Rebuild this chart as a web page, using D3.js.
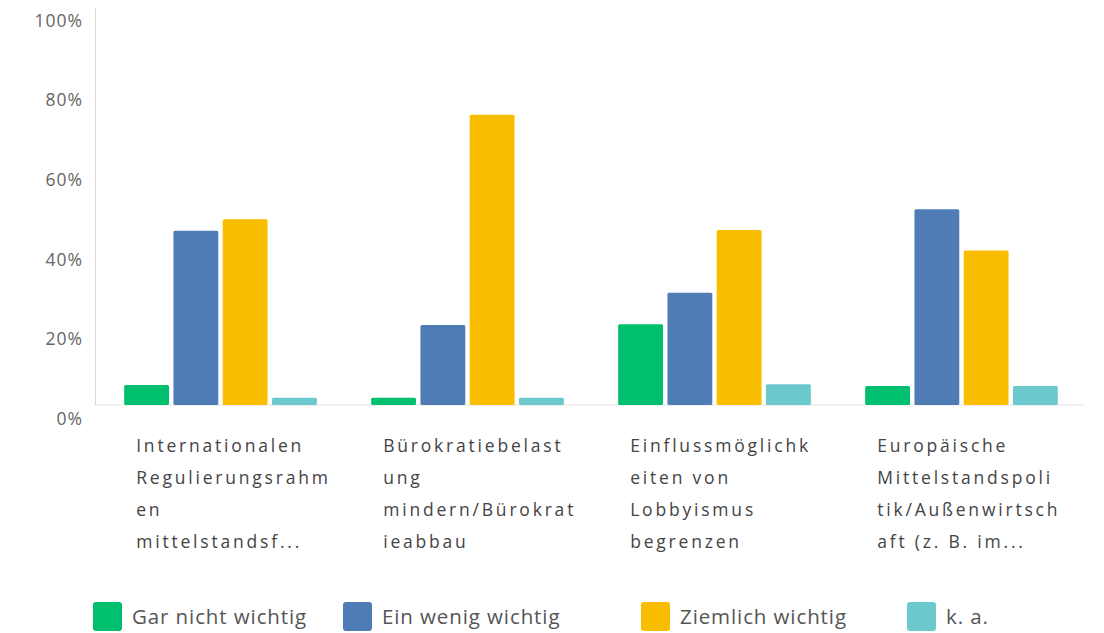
<!DOCTYPE html>
<html>
<head>
<meta charset="utf-8">
<script src="https://cdn.jsdelivr.net/npm/d3@7/dist/d3.min.js"></script>
<style>
  body{margin:0;background:#fff;}
  svg{display:block;font-family:"Open Sans",sans-serif;}
</style>
</head>
<body>
<div id="chart"></div>
<script>
// categories (already broken into lines as in the original export)
var categories=['Internationalen','Bürokratiebelast','Einflussmöglichk','Europäische'];
var categoryLines=[
    ['Internationalen','Regulierungsrahm','en','mittelstandsf...'],
    ['Bürokratiebelast','ung','mindern/Bürokrat','ieabbau'],
    ['Einflussmöglichk','eiten von','Lobbyismus','begrenzen'],
    ['Europäische','Mittelstandspoli','tik/Außenwirtsch','aft (z. B. im...']
];
var seriesNames=['Gar nicht wichtig','Ein wenig wichtig','Ziemlich wichtig','k. a.'];
var garNicht=[5.0,1.8,20.3,4.8];
var einWenig=[43.8,20.1,28.2,49.2];
var ziemlich=[46.7,72.9,44.0,38.8];
var ka=[1.8,1.8,5.2,4.8];
var yTicks=[0,20,40,60,80,100];
var colors=['#00bf6f','#507cb6','#f9be00','#6bc8cd'];

//----------------------------------------------------------------
var width=1104,
    height=633,
    mLeft=95,
    mRight=1085,
    mTop=7,
    mBottom=405;

var series=[garNicht,einWenig,ziemlich,ka];
var data=categories.map(function(c,i){
    return {cat:c,lines:categoryLines[i],values:series.map(function(s,j){
        return {name:seriesNames[j],value:s[i],idx:j};
    })};
});

var svg=d3.select('#chart').append('svg')
    .attr('width',width)
    .attr('height',height);

var yScale=d3.scaleLinear()
    .domain([0,100])
    .range([mBottom,mTop]);

var x0=d3.scaleBand()
    .domain(categories)
    .range([mLeft+2,mRight])
    .paddingInner(0.22)
    .paddingOuter(0.11);

var x1=d3.scaleBand()
    .domain(d3.range(seriesNames.length))
    .range([0,x0.bandwidth()])
    .paddingInner(0.09);

// y axis
var yAxis=svg.append('g')
    .attr('transform','translate('+mLeft+',0)')
    .call(d3.axisLeft(yScale)
        .tickValues(yTicks)
        .tickFormat(function(d){return d+'%';})
        .tickSize(0)
        .tickPadding(12));
yAxis.select('.domain').attr('stroke','#d9d9d9');
yAxis.selectAll('text')
    .attr('dy','1.1em')
    .style('font-family','"Open Sans",sans-serif')
    .style('font-size','17.5px')
    .style('letter-spacing','1px')
    .style('fill','#666');

// baseline
svg.append('line')
    .attr('x1',mLeft+2)
    .attr('x2',mRight)
    .attr('y1',yScale(0))
    .attr('y2',yScale(0))
    .attr('stroke','#e3e3e3');

// bars
var groups=svg.selectAll('g.group').data(data)
    .enter().append('g')
    .attr('class','group')
    .attr('transform',function(d){return 'translate('+x0(d.cat)+',0)';});

groups.selectAll('rect').data(function(d){return d.values;})
    .enter().append('rect')
    .attr('x',function(d){return x1(d.idx);})
    .attr('width',x1.bandwidth())
    .attr('y',function(d){return yScale(d.value);})
    .attr('height',function(d){return yScale(0)-yScale(d.value);})
    .attr('rx',1.5)
    .style('fill',function(d){return colors[d.idx];});

// x labels
groups.append('text')
    .attr('x',12)
    .attr('y',452)
    .style('font-size','17.5px')
    .style('letter-spacing','2.8px')
    .style('fill','#444')
    .selectAll('tspan').data(function(d){return d.lines;})
    .enter().append('tspan')
    .attr('x',12)
    .attr('dy',function(d,i){return i==0?0:32;})
    .text(function(d){return d;});

// legend
var legendX=[93,343,641,907];
var legend=svg.selectAll('g.legend').data(seriesNames)
    .enter().append('g')
    .attr('class','legend')
    .attr('transform',function(d,i){return 'translate('+legendX[i]+',602)';});
legend.append('rect')
    .attr('width',29)
    .attr('height',29)
    .attr('rx',3)
    .style('fill',function(d,i){return colors[i];});
legend.append('text')
    .attr('x',39)
    .attr('y',22)
    .style('font-size','20.5px')
    .style('letter-spacing','0.9px')
    .style('fill','#555')
    .text(function(d){return d;});
</script>
</body>
</html>
